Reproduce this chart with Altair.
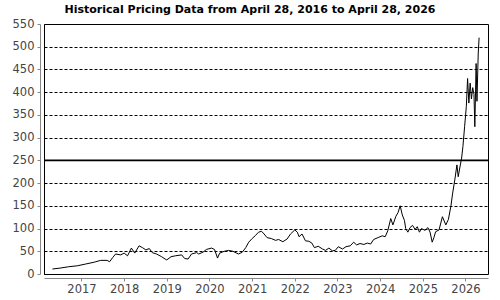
import altair as alt
import pandas as pd

years = [
    2016.32, 2016.50, 2016.70, 2016.90, 2017.10, 2017.30, 2017.45, 2017.60, 2017.66, 2017.73,
    2017.80, 2017.92, 2018.00, 2018.08, 2018.17, 2018.25, 2018.35, 2018.43, 2018.51, 2018.59,
    2018.66, 2018.76, 2018.88, 2018.96, 2019.00, 2019.10, 2019.20, 2019.35, 2019.42, 2019.50,
    2019.58, 2019.70, 2019.75, 2019.85, 2019.93, 2020.05, 2020.12, 2020.19, 2020.24, 2020.35,
    2020.45, 2020.55, 2020.68, 2020.77, 2020.85, 2020.92, 2021.00, 2021.08, 2021.15, 2021.22,
    2021.28, 2021.35, 2021.45, 2021.55, 2021.62, 2021.72, 2021.82, 2021.90, 2022.00, 2022.06,
    2022.10, 2022.17, 2022.25, 2022.33, 2022.40, 2022.46, 2022.55, 2022.65, 2022.72, 2022.80,
    2022.88, 2022.95, 2023.02, 2023.12, 2023.20, 2023.30, 2023.38, 2023.45, 2023.53, 2023.62,
    2023.70, 2023.78, 2023.85, 2023.95, 2024.05, 2024.12, 2024.18, 2024.25, 2024.30, 2024.37,
    2024.42, 2024.47, 2024.52, 2024.57, 2024.60, 2024.65, 2024.70, 2024.76, 2024.82, 2024.87,
    2024.92, 2024.97, 2025.05, 2025.12, 2025.17, 2025.22, 2025.26, 2025.30, 2025.38, 2025.46,
    2025.54, 2025.60, 2025.66, 2025.70, 2025.75, 2025.80, 2025.83, 2025.88, 2025.91, 2025.94,
    2025.98, 2026.02, 2026.05, 2026.08, 2026.11, 2026.14, 2026.17, 2026.20, 2026.22, 2026.25,
    2026.27, 2026.30, 2026.32,
]
prices = [
    11, 13, 16, 18, 22, 26, 30, 30, 27, 36,
    44, 42, 46, 40, 57, 46, 62, 58, 53, 56,
    47, 44, 38, 33, 31, 38, 40, 42, 34, 33,
    44, 47, 44, 48, 54, 57, 54, 35, 46, 50,
    52, 50, 44, 48, 58, 70, 78, 85, 92, 94,
    88, 80, 78, 74, 76, 71, 77, 88, 97, 92,
    82, 88, 73, 72, 68, 58, 61, 55, 52, 57,
    51, 52, 60, 55, 60, 62, 70, 64, 67, 65,
    68, 66, 76, 80, 84, 82, 95, 122, 108, 127,
    135, 150, 130, 118, 100, 92, 102, 107, 98, 104,
    92, 100, 96, 102, 92, 70, 80, 93, 97, 126,
    108, 120, 150, 178, 207, 240, 214, 240, 255, 280,
    324, 368, 430, 376, 420, 385, 410, 395, 324, 463,
    380, 486, 520,
]
ref_level = [250]
y_ticks = list(range(0, 551, 50))


def to_date(y):
    yr = int(y)
    start = pd.Timestamp(year=yr, month=1, day=1)
    end = pd.Timestamp(year=yr + 1, month=1, day=1)
    return start + (end - start) * (y - yr)


df = pd.DataFrame({"date": [to_date(y) for y in years], "price": prices})
ref_df = pd.DataFrame({"level": ref_level})

FONT = "DejaVu Sans"
y_scale = alt.Scale(domain=[0, 550], nice=False)
y_axis = alt.Axis(values=y_ticks, grid=True, gridColor="black",
                  gridDash=[3, 2], gridWidth=1, domainColor="#888888",
                  tickColor="#888888", labelColor="#444444", labelFont=FONT,
                  labelFontSize=11.5, labelOverlap=False, offset=4, tickSize=3,
                  labelPadding=3, title=None)

x_enc = alt.X(
    "date:T",
    scale=alt.Scale(domain=[alt.DateTime(year=2016, month=2, date=15),
                            alt.DateTime(year=2026, month=7, date=13)]),
    axis=alt.Axis(format="%Y", tickCount={"interval": "year", "step": 1}, grid=False,
                  domainColor="#888888", tickColor="#888888", labelColor="#444444",
                  labelFont=FONT, labelFontSize=11.5, offset=4, tickSize=3,
                  labelPadding=2, labelOverlap=False, title=None),
)

line = alt.Chart(df).mark_line(color="black", strokeWidth=1).encode(
    x=x_enc, y=alt.Y("price:Q", scale=y_scale, axis=y_axis)
)
rule = alt.Chart(ref_df).mark_rule(color="black", strokeWidth=1.6).encode(
    y=alt.Y("level:Q", scale=y_scale, axis=y_axis)
)

chart = alt.layer(line, rule).properties(
    width=444,
    height=250,
    title=alt.TitleParams(
        "Historical Pricing Data from April 28, 2016 to April 28, 2026",
        font=FONT, fontSize=11, fontWeight="bold", color="black",
        anchor="middle", dx=-16, offset=3,
    ),
    autosize=alt.AutoSizeParams(type="none"),
    padding={"left": 44, "top": 24, "right": 12, "bottom": 26},
).configure_view(stroke="black", strokeWidth=1)

chart.save("out.html", embed_options={"renderer": "svg", "actions": False})
